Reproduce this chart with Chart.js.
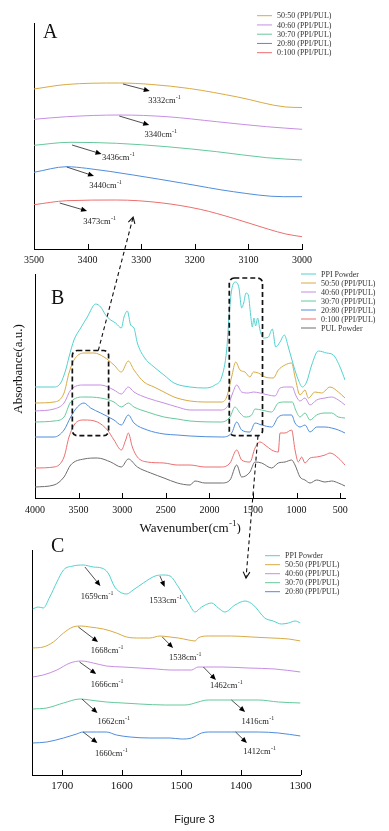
<!DOCTYPE html>
<html>
<head>
<meta charset="utf-8">
<script src="https://cdn.jsdelivr.net/npm/chart.js@4"></script>
<style>
  html, body { margin: 0; padding: 0; background: #fff; }
  #wrap { position: relative; width: 389px; height: 831px; overflow: hidden; }
  #wrap canvas { position: absolute; left: 0; }
  #caption { position: absolute; left: 0; width: 389px; top: 813px; text-align: center;
             font: 11px "Liberation Sans", Arial, sans-serif; color: #111; }
</style>
</head>
<body>
<div id="wrap">
  <canvas id="chartA" width="389" height="270" style="top:0"></canvas>
  <canvas id="chartB" width="389" height="264" style="top:270px"></canvas>
  <canvas id="chartC" width="389" height="266" style="top:534px"></canvas>
  <canvas id="overlay" width="389" height="831" style="top:0;pointer-events:none"></canvas>
  <div id="caption">Figure 3</div>
</div>
<script>
// ---- data (wavenumber cm-1, absorbance a.u. with offsets) ----
const namesA = ['50:50 (PPI/PUL)', '40:60 (PPI/PUL)', '30:70 (PPI/PUL)', '20:80 (PPI/PUL)', '0:100 (PPI/PUL)'];
const namesB = ['PPI Powder', '50:50 (PPI/PUL)', '40:60 (PPI/PUL)', '30:70 (PPI/PUL)', '20:80 (PPI/PUL)', '0:100 (PPI/PUL)', 'PUL Powder'];
const namesC = ['PPI Powder', '50:50 (PPI/PUL)', '40:60 (PPI/PUL)', '30:70 (PPI/PUL)', '20:80 (PPI/PUL)'];

const ticksA = [3500, 3400, 3300, 3200, 3100, 3000];
const ticksB = [4000, 3500, 3000, 2500, 2000, 1500, 1000, 500];
const ticksC = [1700, 1600, 1500, 1400, 1300];

// panel A, 3500-3000
const a5050 = [[3500,160],[3440,164.5],[3340,166],[3280,164.5],[3210,160.5],[3120,152],[3030,142],[3000,141.5]];
const a4060 = [[3500,129.7],[3439,132.3],[3340,134],[3252,132.3],[3159,127.3],[3066,122.3],[3000,119.7]];
const a3070 = [[3500,103.7],[3433,106.7],[3346,105.7],[3252,102.3],[3159,97.3],[3066,91.3],[3000,89]];
const a2080 = [[3500,76.7],[3439,82.3],[3402,80.7],[3315,74],[3221,65.7],[3128,57.3],[3035,52.3],[3000,52.3]];
const a0100 = [[3500,44.3],[3439,48.3],[3346,49],[3265,46.3],[3190,39.7],[3128,30.7],[3062,19.7],[3030,15],[3000,12.3]];

// panel B, 4000-445
const bPPI = [[4000,111],[3782,111],[3706,115],[3648,128],[3610,141],[3553,158],[3476,170],[3400,181],[3304,194],[3247,191],[3190,183],[3132,178],[3075,175],[3010,170],[2979,181],[2941,187],[2903,173],[2865,170],[2826,155],[2750,141],[2635,131],[2521,123],[2406,115],[2222,111],[2051,110],[1936,113],[1859,121],[1802,148],[1772,185],[1745,208],[1699,216],[1661,210],[1630,190],[1607,195],[1580,205],[1554,203],[1527,183],[1508,171],[1489,180],[1470,172],[1447,180],[1420,168],[1382,160],[1324,161],[1278,169],[1240,151],[1190,156],[1141,163],[1095,151],[1037,133],[980,118],[934,111],[885,116],[827,133],[751,147],[655,145],[579,143],[502,131],[445,118]];
const b5050 = [[4000,95],[3782,96],[3667,105],[3610,125],[3553,138],[3438,145],[3323,145],[3209,141],[3094,133],[3010,126],[2930,137],[2865,128],[2750,116],[2635,111],[2521,106],[2406,101],[2222,97],[2051,96],[1859,96],[1802,101],[1745,121],[1699,136],[1649,128],[1592,126],[1535,121],[1496,126],[1439,125],[1362,121],[1267,120],[1210,128],[1133,133],[1057,135],[1018,121],[961,103],[904,108],[865,100],[789,106],[713,105],[617,111],[521,106],[445,100]];
const b4060 = [[4000,87],[3782,89],[3667,95],[3591,108],[3438,113],[3247,113],[3094,108],[3010,104],[2930,111],[2865,106],[2712,100],[2521,95],[2368,91],[2222,88],[1859,88],[1783,93],[1733,105],[1687,113],[1630,106],[1554,105],[1496,106],[1420,105],[1324,103],[1248,102],[1190,110],[1114,111],[1049,111],[1011,103],[961,97],[904,100],[846,93],[770,98],[674,100],[598,101],[521,98],[445,93]];
const b3070 = [[4000,76],[3782,77],[3667,81],[3591,96],[3438,101],[3247,100],[3094,96],[3010,91],[2930,95],[2865,91],[2712,86],[2521,81],[2368,79],[2222,77],[1859,76],[1764,81],[1707,91],[1649,85],[1592,81],[1515,83],[1477,89],[1401,88],[1286,86],[1210,95],[1133,96],[1049,96],[1011,88],[961,81],[904,85],[846,78],[770,83],[674,85],[598,85],[521,81],[445,80]];
const b2080 = [[4000,61],[3782,61],[3667,68],[3591,81],[3514,91],[3438,95],[3362,90],[3247,85],[3094,78],[3010,73],[2930,83],[2865,75],[2712,68],[2521,64],[2368,63],[2222,62],[1859,61],[1745,65],[1687,76],[1630,68],[1535,66],[1477,75],[1401,73],[1286,71],[1210,81],[1133,83],[1057,83],[1018,75],[961,71],[904,73],[846,66],[770,71],[674,71],[598,70],[521,68],[445,65]];
const b0100 = [[4000,30],[3782,31],[3667,41],[3610,61],[3534,75],[3438,78],[3285,76],[3170,68],[3094,58],[3010,48],[2960,58],[2930,65],[2884,51],[2826,41],[2712,36],[2521,35],[2368,33],[2222,33],[2051,31],[1859,31],[1764,35],[1687,48],[1630,38],[1535,36],[1477,50],[1420,56],[1362,53],[1286,48],[1210,46],[1190,65],[1133,65],[1057,68],[1018,48],[980,36],[942,41],[904,35],[846,40],[770,41],[674,43],[617,45],[521,40],[445,33]];
const bPUL = [[4000,11],[3782,13],[3667,21],[3591,33],[3438,39],[3285,40],[3132,36],[3010,31],[2930,39],[2826,31],[2673,25],[2521,20],[2368,15],[2222,13],[2165,17],[2051,15],[1859,15],[1764,18],[1687,33],[1630,21],[1535,26],[1477,36],[1401,35],[1286,30],[1210,35],[1133,36],[1057,38],[1018,33],[961,21],[904,18],[846,15],[770,18],[674,16],[598,17],[521,15],[445,12]];

// panel C, 1750-1300
const cPPI = [[1750,166],[1740,168],[1732,167],[1721,178],[1709,193],[1698,205],[1682,209],[1665,210],[1648,208],[1634,207],[1623,202],[1612,188],[1600,182],[1592,181],[1581,185],[1564,192],[1544,199],[1530,200],[1519,199],[1505,188],[1488,172],[1477,163],[1466,168],[1449,172],[1438,167],[1427,163],[1410,170],[1393,174],[1379,170],[1360,157],[1346,154],[1332,151],[1320,152],[1309,154],[1300,152]];
const c5050 = [[1750,127],[1732,128],[1715,133],[1698,142],[1682,148],[1668,149],[1654,148],[1631,146],[1609,142],[1592,138],[1570,137],[1553,137],[1536,139],[1519,138],[1505,137],[1488,135],[1477,134],[1472,137],[1455,139],[1416,139],[1382,138],[1348,137],[1320,136],[1300,134]];
const c4060 = [[1750,98],[1732,100],[1709,105],[1687,112],[1668,114],[1648,112],[1626,109],[1598,108],[1570,107],[1542,106],[1519,105],[1500,105],[1483,105],[1472,108],[1460,108],[1432,108],[1388,107],[1343,106],[1300,103]];
const c3070 = [[1750,66],[1726,67],[1698,72],[1670,76],[1654,75],[1626,73],[1598,72],[1570,71],[1527,70],[1494,70],[1483,71],[1472,73],[1455,75],[1416,75],[1371,75],[1337,73],[1300,72]];
const c2080 = [[1750,32],[1726,33],[1698,37],[1676,41],[1665,43],[1642,43],[1626,43],[1609,40],[1586,38],[1553,37],[1519,37],[1500,36],[1483,37],[1466,42],[1455,43],[1416,43],[1371,43],[1337,42],[1300,39]];

// peak labels: arrow from -> to (data coords), text anchored at `at`
const peaksA = [
  { from: [3334,165], to: [3284,158], text: '3332', at: [3287,148] },
  { from: [3341,133], to: [3285,124], text: '3340', at: [3294,114] },
  { from: [3429,104], to: [3374,95], text: '3436', at: [3373,91] },
  { from: [3439,82], to: [3388,73], text: '3440', at: [3397,63] },
  { from: [3452,46], to: [3401,38], text: '3473', at: [3408,27] }
];
const peaksC = [
  { from: [1662,208], to: [1636,189], text: '1659', at: [1669,178] },
  { from: [1536,199], to: [1528,188], text: '1533', at: [1554,174] },
  { from: [1673,148], to: [1640,133], text: '1668', at: [1652,124] },
  { from: [1532,138], to: [1514,127], text: '1538', at: [1521,117] },
  { from: [1671,113], to: [1643,101], text: '1666', at: [1652,90] },
  { from: [1463,108], to: [1442,95], text: '1462', at: [1452,89] },
  { from: [1667,76], to: [1641,62], text: '1662', at: [1641,53] },
  { from: [1416,75], to: [1393,63], text: '1416', at: [1399,53] },
  { from: [1665,43], to: [1641,32], text: '1660', at: [1645,21] },
  { from: [1409,43], to: [1390,32], text: '1412', at: [1396,23] }
];
// zoom boxes on panel B (wavenumber range, absorbance range)
const boxesB = [
  { x: [3572,3156], y: [62.3,147.5] },
  { x: [1772,1391], y: [62.3,220] }
];

const colorOf = {
  'PPI Powder': '#52d1cf',
  '50:50 (PPI/PUL)': '#d8aa45',
  '40:60 (PPI/PUL)': '#c68ee4',
  '30:70 (PPI/PUL)': '#66c89c',
  '20:80 (PPI/PUL)': '#4f8ddc',
  '0:100 (PPI/PUL)': '#ec6e6e',
  'PUL Powder': '#6e6e6e'
};
const SERIF = '"Liberation Serif", "Times New Roman", serif';

function richText(ctx, parts, x, y, size, align) {
  const pieces = parts.map(([t, sup]) => {
    const fs = sup ? size * 0.7 : size;
    ctx.font = fs + 'px ' + SERIF;
    return { t, sup, fs, w: ctx.measureText(t).width };
  });
  const total = pieces.reduce((s, p) => s + p.w, 0);
  let cx = align === 'center' ? x - total / 2 : x;
  ctx.textAlign = 'left';
  ctx.textBaseline = 'middle';
  pieces.forEach(p => {
    ctx.font = p.fs + 'px ' + SERIF;
    ctx.fillText(p.t, cx, p.sup ? y - size * 0.45 : y);
    cx += p.w + (p.sup ? 0 : 0.3);
  });
}

function drawArrow(ctx, x1, y1, x2, y2) {
  const a = Math.atan2(y2 - y1, x2 - x1), L = 6, W = 2.6;
  ctx.strokeStyle = '#222';
  ctx.lineWidth = 0.8;
  ctx.setLineDash([]);
  ctx.beginPath();
  ctx.moveTo(x1, y1);
  ctx.lineTo(x2 - L * 0.7 * Math.cos(a), y2 - L * 0.7 * Math.sin(a));
  ctx.stroke();
  ctx.fillStyle = '#000';
  ctx.beginPath();
  ctx.moveTo(x2, y2);
  ctx.lineTo(x2 - L * Math.cos(a) + W * Math.sin(a), y2 - L * Math.sin(a) - W * Math.cos(a));
  ctx.lineTo(x2 - L * Math.cos(a) - W * Math.sin(a), y2 - L * Math.sin(a) + W * Math.cos(a));
  ctx.closePath();
  ctx.fill();
}

function roundRect(ctx, x1, y1, x2, y2, r) {
  ctx.beginPath();
  ctx.moveTo(x1 + r, y1);
  ctx.arcTo(x2, y1, x2, y2, r);
  ctx.arcTo(x2, y2, x1, y2, r);
  ctx.arcTo(x1, y2, x1, y1, r);
  ctx.arcTo(x1, y1, x2, y1, r);
  ctx.closePath();
  ctx.stroke();
}

// extra drawing: inner ticks, peak labels, legend, panel letter, titles
const deco = {
  id: 'deco',
  afterDraw(chart, args, o) {
    const { ctx, chartArea: ca, scales: { x, y } } = chart;
    ctx.save();
    ctx.strokeStyle = '#000';
    ctx.lineWidth = 1;
    x.ticks.forEach(t => {
      const px = Math.round(x.getPixelForValue(t.value)) + 0.5;
      ctx.beginPath();
      ctx.moveTo(px, ca.bottom);
      ctx.lineTo(px, ca.bottom - 5);
      ctx.stroke();
    });

    (o.boxes || []).forEach(b => {
      const xs = b.x.map(v => x.getPixelForValue(v)), ys = b.y.map(v => y.getPixelForValue(v));
      ctx.strokeStyle = '#111';
      ctx.lineWidth = 1.7;
      ctx.setLineDash([5, 3]);
      roundRect(ctx, Math.min(...xs), Math.min(...ys), Math.max(...xs), Math.max(...ys), 5);
    });
    ctx.setLineDash([]);

    (o.peaks || []).forEach(p => {
      drawArrow(ctx, x.getPixelForValue(p.from[0]), y.getPixelForValue(p.from[1]),
                x.getPixelForValue(p.to[0]), y.getPixelForValue(p.to[1]));
      ctx.fillStyle = '#222';
      richText(ctx, [[p.text + 'cm', 0], ['-1', 1]],
               x.getPixelForValue(p.at[0]), y.getPixelForValue(p.at[1]), 8.5, 'left');
    });

    if (o.legend) {
      const lg = o.legend;
      chart.data.datasets.forEach((ds, i) => {
        const ly = ca.top + lg.dy + i * lg.gap;
        const lx = ca.right + lg.dx;
        ctx.strokeStyle = ds.borderColor;
        ctx.lineWidth = 1;
        ctx.beginPath();
        ctx.moveTo(lx, ly);
        ctx.lineTo(lx + 15, ly);
        ctx.stroke();
        ctx.fillStyle = '#333';
        ctx.font = '8px ' + SERIF;
        ctx.textAlign = 'left';
        ctx.textBaseline = 'middle';
        ctx.fillText(ds.label, lx + 20, ly + 0.5);
      });
    }

    if (o.letter) {
      ctx.fillStyle = '#111';
      ctx.font = '20px ' + SERIF;
      ctx.textAlign = 'left';
      ctx.textBaseline = 'alphabetic';
      ctx.fillText(o.letter.text, ca.left + o.letter.dx, ca.top + o.letter.dy);
    }

    if (o.xTitle) {
      ctx.fillStyle = '#111';
      richText(ctx, [['Wavenumber(cm', 0], ['-1', 1], [')', 0]],
               (ca.left + ca.right) / 2, ca.bottom + o.xTitle.dy, 13, 'center');
    }
    if (o.yTitle) {
      ctx.save();
      ctx.translate(ca.left + o.yTitle.dx, ca.top + o.yTitle.dy);
      ctx.rotate(-Math.PI / 2);
      ctx.fillStyle = '#111';
      ctx.font = '13px ' + SERIF;
      ctx.textAlign = 'center';
      ctx.textBaseline = 'middle';
      ctx.fillText('Absorbance(a.u.)', 0, 0);
      ctx.restore();
    }
    ctx.restore();
  }
};

function makeChart(id, names, series, cfg) {
  return new Chart(document.getElementById(id), {
    type: 'line',
    data: {
      datasets: series.map((s, i) => ({
        label: names[i],
        data: s.map(p => ({ x: p[0], y: p[1] })),
        borderColor: colorOf[names[i]],
        borderWidth: 1,
        pointRadius: 0,
        cubicInterpolationMode: 'monotone',
        fill: false
      }))
    },
    options: {
      responsive: false,
      animation: false,
      events: [],
      layout: { padding: cfg.pad },
      plugins: { legend: { display: false }, tooltip: { enabled: false }, deco: cfg.deco },
      scales: {
        x: {
          type: 'linear', reverse: true, min: cfg.xMin, max: cfg.xMax,
          grid: { display: false, drawTicks: false },
          border: { display: true, color: '#000', width: 1 },
          ticks: {
            autoSkip: false, maxRotation: 0,
            padding: cfg.tickPad, color: '#111',
            font: { family: SERIF, size: cfg.tickSize },
            callback: v => String(v)
          },
          afterBuildTicks: s => { s.ticks = cfg.ticks.map(v => ({ value: v })); },
          afterFit: s => { s.height = cfg.xHeight; }
        },
        y: {
          min: 0, max: cfg.yMax,
          grid: { display: false, drawTicks: false },
          border: { display: true, color: '#000', width: 1 },
          ticks: { display: false },
          afterFit: s => { s.width = 0; }
        }
      }
    },
    plugins: [deco]
  });
}

const chartA = makeChart('chartA', namesA, [a5050, a4060, a3070, a2080, a0100], {
  pad: { left: 34, top: 23, right: 87, bottom: 0 }, xHeight: 21,
  xMin: 3000, xMax: 3500, ticks: ticksA, yMax: 226, tickPad: 5, tickSize: 10,
  deco: { peaks: peaksA, legend: { dx: -45, dy: -7.3, gap: 9.25 }, letter: { text: 'A', dx: 9, dy: 15 } }
});
const chartB = makeChart('chartB', namesB, [bPPI, b5050, b4060, b3070, b2080, b0100, bPUL], {
  pad: { left: 35, top: 4, right: 44, bottom: 0 }, xHeight: 36,
  xMin: 445, xMax: 4000, ticks: ticksB, yMax: 224, tickPad: 6, tickSize: 10,
  deco: { boxes: boxesB, legend: { dx: -44, dy: 0, gap: 9 }, letter: { text: 'B', dx: 16, dy: 30 },
          xTitle: { dy: 31 }, yTitle: { dx: -16, dy: 95 } }
});
const chartC = makeChart('chartC', namesC, [cPPI, c5050, c4060, c3070, c2080], {
  pad: { left: 32.5, top: 16, right: 88.5, bottom: 0 }, xHeight: 25,
  xMin: 1300, xMax: 1750, ticks: ticksC, yMax: 225, tickPad: 5, tickSize: 11,
  deco: { peaks: peaksC, legend: { dx: -35.5, dy: 5.7, gap: 9 }, letter: { text: 'C', dx: 18.5, dy: 2 } }
});

// dashed connectors between panels (drawn over all three canvases)
function pagePoint(chart, top, wn, val) {
  return [chart.scales.x.getPixelForValue(wn), top + chart.scales.y.getPixelForValue(val)];
}
function connector(ctx, p1, p2) {
  ctx.strokeStyle = '#111';
  ctx.lineWidth = 1.1;
  ctx.setLineDash([4, 3]);
  ctx.beginPath();
  ctx.moveTo(p1[0], p1[1]);
  ctx.lineTo(p2[0], p2[1]);
  ctx.stroke();
  ctx.setLineDash([]);
  const a = Math.atan2(p2[1] - p1[1], p2[0] - p1[0]), L = 7, s = 0.5;
  ctx.beginPath();
  ctx.moveTo(p2[0] - L * Math.cos(a - s), p2[1] - L * Math.sin(a - s));
  ctx.lineTo(p2[0], p2[1]);
  ctx.lineTo(p2[0] - L * Math.cos(a + s), p2[1] - L * Math.sin(a + s));
  ctx.stroke();
}
const octx = document.getElementById('overlay').getContext('2d');
connector(octx, pagePoint(chartB, 270, 3274, 147.5), pagePoint(chartA, 0, 3315, 32));
connector(octx, pagePoint(chartB, 270, 1443, 62.3), pagePoint(chartC, 534, 1391.5, 197));
</script>
</body>
</html>
